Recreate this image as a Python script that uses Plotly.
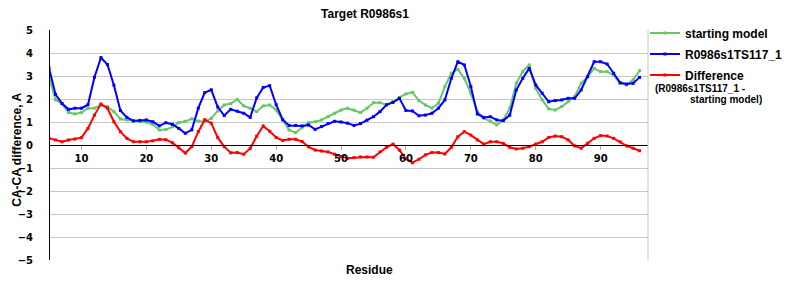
import plotly.graph_objects as go

residues = list(range(5, 97))

starting_model = [
    2.97, 1.96, 1.81, 1.41, 1.35, 1.41, 1.60, 1.60, 1.74, 1.67,
    1.45, 1.13, 1.09, 1.04, 1.01, 1.00, 0.90, 0.65, 0.67, 0.79,
    0.97, 1.03, 1.14, 1.04, 1.01, 1.16, 1.48, 1.74, 1.80, 1.98,
    1.70, 1.60, 1.45, 1.70, 1.74, 1.52, 1.09, 0.65, 0.54, 0.77,
    0.97, 1.01, 1.09, 1.23, 1.38, 1.52, 1.60, 1.52, 1.41, 1.60,
    1.84, 1.84, 1.74, 1.88, 2.07, 2.22, 2.29, 1.93, 1.74, 1.60,
    1.81, 2.54, 3.12, 3.29, 2.90, 2.25, 1.45, 1.16, 1.04, 0.87,
    1.09, 1.60, 2.68, 3.19, 3.48, 2.46, 1.96, 1.57, 1.52, 1.67,
    1.88, 2.10, 2.68, 2.97, 3.33, 3.19, 3.19, 3.04, 2.68, 2.61,
    2.83, 3.23,
]

model = [
    3.35, 2.20, 1.80, 1.55, 1.60, 1.60, 1.75, 2.95, 3.80, 3.50,
    2.60, 1.50, 1.20, 1.05, 1.07, 1.09, 1.01, 0.83, 0.97, 0.90,
    0.72, 0.51, 0.66, 1.60, 2.28, 2.40, 1.65, 1.28, 1.55, 1.47,
    1.38, 1.20, 2.05, 2.50, 2.58, 1.75, 1.10, 0.85, 0.85, 0.83,
    0.87, 0.68, 0.80, 0.93, 1.03, 1.00, 0.95, 0.85, 0.93, 1.08,
    1.23, 1.45, 1.75, 1.85, 2.03, 1.50, 1.48, 1.27, 1.30, 1.38,
    1.60, 1.96, 2.90, 3.62, 3.48, 2.54, 1.35, 1.20, 1.23, 1.09,
    1.06, 1.30, 2.39, 2.90, 3.33, 2.61, 2.25, 1.88, 1.93, 1.96,
    2.03, 2.03, 2.39, 2.97, 3.62, 3.62, 3.52, 3.12, 2.71, 2.65,
    2.68, 2.94,
]

difference = [
    0.29, 0.22, 0.14, 0.22, 0.26, 0.32, 0.72, 1.30, 1.78, 1.60,
    1.01, 0.58, 0.29, 0.14, 0.14, 0.14, 0.18, 0.25, 0.23, 0.10,
    -0.12, -0.35, -0.07, 0.58, 1.10, 0.95, 0.32, -0.07, -0.34, -0.33,
    -0.40, -0.15, 0.38, 0.83, 0.60, 0.33, 0.20, 0.25, 0.25, 0.15,
    -0.08, -0.22, -0.26, -0.30, -0.40, -0.50, -0.58, -0.55, -0.52, -0.52,
    -0.53, -0.30, -0.10, 0.04, -0.22, -0.60, -0.77, -0.62, -0.43, -0.33,
    -0.33, -0.39, -0.10, 0.36, 0.58, 0.43, 0.22, 0.04, 0.14, 0.14,
    0.07, -0.10, -0.17, -0.14, -0.07, 0.04, 0.14, 0.33, 0.39, 0.36,
    0.22, -0.04, -0.14, 0.07, 0.29, 0.41, 0.39, 0.29, 0.14, -0.04,
    -0.14, -0.25,
]

x_ticks = [10, 20, 30, 40, 50, 60, 70, 80, 90]
y_ticks = [-5, -4, -3, -2, -1, 0, 1, 2, 3, 4, 5]
y_tick_text = ["−5", "−4", "−3", "−2", "−1", "0", "1", "2", "3", "4", "5"]

series = [
    ("starting model", starting_model, "#66c766"),
    ("R0986s1TS117_1", model, "#0000ff"),
    ("Difference", difference, "#ff0000"),
]

fig = go.Figure()
for i, (name, vals, color) in enumerate(series):
    fig.add_trace(go.Scatter(
        x=residues, y=vals, name=f"<b>{name}</b>", mode="lines+markers",
        line=dict(color=color, width=2),
        marker=dict(color=color, size=3, symbol="square"),
        legendgroup=f"g{i}",
    ))

tick_font = dict(family="DejaVu Sans", size=10, color="black", weight="bold")
label_font = dict(family="Liberation Sans", size=12, color="black")

fig.update_layout(
    width=800, height=300,
    margin=dict(l=50, r=139, t=30, b=40),
    paper_bgcolor="white", plot_bgcolor="white",
    title=dict(text="<b>Target R0986s1</b>", x=365 / 800, xanchor="center",
               y=1 - 14 / 300, yanchor="middle",
               font=dict(family="Liberation Sans", size=12, color="black")),
    showlegend=True,
    legend=dict(x=0.995, y=1.05, xanchor="left", yanchor="top",
                font=dict(family="Liberation Sans", size=12, color="black"),
                bgcolor="rgba(0,0,0,0)", tracegroupgap=2, valign="middle",
                itemwidth=30),
    xaxis=dict(range=[5.15, 97.3], tickvals=x_ticks, showgrid=False,
               anchor="free", position=0.5, showline=True, linecolor="black",
               linewidth=1, ticks="outside", ticklen=4, tickcolor="#b0b0b0",
               tickfont=tick_font, zeroline=False),
    yaxis=dict(range=[-5, 5], tickvals=y_ticks, ticktext=y_tick_text,
               showgrid=True, gridcolor="#c8c8c8", gridwidth=1,
               zeroline=True, zerolinecolor="black", zerolinewidth=1,
               showline=True, linecolor="black", linewidth=1,
               ticks="", ticklabelstandoff=14, tickfont=tick_font),
    annotations=[
        dict(text="<b>CA-CA difference, A</b>", textangle=-90,
             xref="paper", yref="paper", x=(16 - 50) / 611, y=(260 - 150) / 230,
             xanchor="center", yanchor="middle", showarrow=False, font=label_font),
        dict(text="<b>Residue</b>", xref="paper", yref="paper",
             x=(376 - 50) / 611, y=(260 - 270) / 230,
             xanchor="center", yanchor="middle", showarrow=False, font=label_font),
        dict(text="<b>(R0986s1TS117_1 -</b>", xref="paper", yref="paper",
             x=(666 - 50) / 611, y=(260 - 88) / 230,
             xanchor="left", yanchor="middle", showarrow=False,
             font=dict(family="Liberation Sans", size=10, color="black")),
        dict(text="<b>starting model)</b>", xref="paper", yref="paper",
             x=(702 - 50) / 611, y=(260 - 99) / 230,
             xanchor="left", yanchor="middle", showarrow=False,
             font=dict(family="Liberation Sans", size=10, color="black")),
    ],
    shapes=[
        dict(type="line", xref="paper", yref="paper", x0=1, x1=1, y0=0, y1=1,
             line=dict(color="#c8c8c8", width=1)),
    ],
)

fig.write_html("out.html")
